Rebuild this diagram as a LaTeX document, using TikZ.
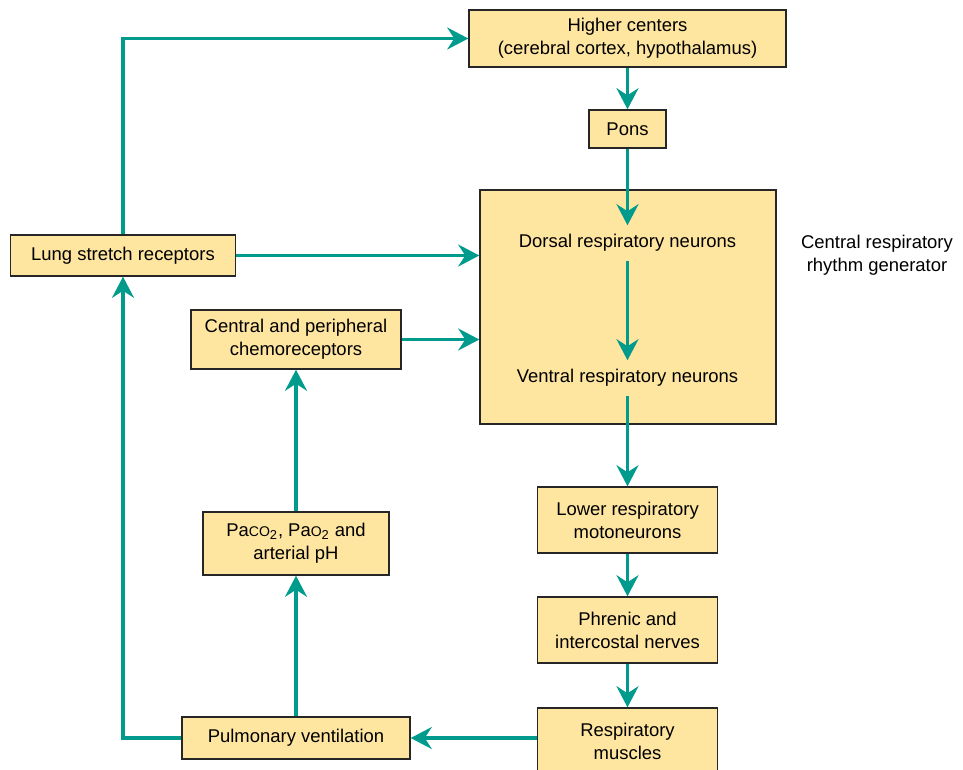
\documentclass[tikz,border=0pt]{standalone}
\usepackage{fontspec}
\setmainfont{Liberation Sans}
\usepackage{tikz}
\usepackage{xcolor}
\usetikzlibrary{arrows.meta}
\definecolor{flowteal}{RGB}{0,155,140}
\definecolor{boxyellow}{RGB}{254,229,160}
\tikzset{
    box/.style={
        rectangle, draw=black!85, line width=0.8pt,
        fill=boxyellow, align=center,
        inner sep=2pt, font=\fontsize{10.5}{13}\selectfont
    },
    label text/.style={
        align=center, inner sep=5pt,
        font=\fontsize{10.5}{13}\selectfont
    },
    flow/.style={
        draw=flowteal, line width=1.8pt,
        -{Stealth[length=12pt, width=12.5pt, inset=4pt]}
    }
}

\begin{document}
\begin{tikzpicture}[x=0.02cm, y=-0.02cm]

        \useasboundingbox (0,0) rectangle (963,769);

        % Brain stem column
        \node[box, minimum width=317*0.02cm, minimum height=57*0.02cm] (higher)
            at (627.5,38.5) {Higher centers\\(cerebral cortex, hypothalamus)};
        \node[box, minimum width=77*0.02cm, minimum height=38*0.02cm] (pons)
            at (627.5,129) {Pons};

        % Rhythm generator
        \node[box, minimum width=296*0.02cm, minimum height=234*0.02cm] (cprg)
            at (628,307) {};
        \node[label text] (dorsal) at (627.5,243) {Dorsal respiratory neurons};
        \node[label text] (ventral) at (627.5,378) {Ventral respiratory neurons};
        \node[label text] (cprglabel) at (877,255)
            {Central respiratory\\rhythm generator};

        % Motor pathway
        \node[box, minimum width=180*0.02cm, minimum height=66*0.02cm] (lowermn)
            at (627.5,520) {Lower respiratory\\motoneurons};
        \node[box, minimum width=180*0.02cm, minimum height=66*0.02cm] (nerves)
            at (627.5,630) {Phrenic and\\intercostal nerves};
        \node[box, minimum width=180*0.02cm, minimum height=66*0.02cm] (muscles)
            at (627.5,741) {Respiratory\\muscles};

        % Feedback side
        \node[box, minimum width=228*0.02cm, minimum height=42*0.02cm] (ventil)
            at (296,738) {Pulmonary ventilation};
        \node[box, minimum width=186*0.02cm, minimum height=63*0.02cm] (gases)
            at (296,543.5)
            {Pa{\footnotesize CO}\textsubscript{2}, Pa{\footnotesize O}\textsubscript{2} and\\arterial pH};
        \node[box, minimum width=210*0.02cm, minimum height=59*0.02cm] (chemo)
            at (296,339.5) {Central and peripheral\\chemoreceptors};
        \node[box, minimum width=225*0.02cm, minimum height=41*0.02cm] (lungsr)
            at (123,255.5) {Lung stretch receptors};

        % Arrows down the column
        \draw[flow] (higher) -- (pons);
        \draw[flow] (pons) -- (dorsal);
        \draw[flow] (dorsal) -- (ventral);
        \draw[flow] (ventral) -- (lowermn);
        \draw[flow] (lowermn) -- (nerves);
        \draw[flow] (nerves) -- (muscles);

        % Arrows back up the left side
        \draw[flow] (ventil.east -| muscles.west) -- (ventil.east);
        \draw[flow] (ventil) -- (gases);
        \draw[flow] (gases) -- (chemo);
        \draw[flow] (ventil.west) -| (lungsr.south);
        \draw[flow] (lungsr.north) |- (higher.west);

        % Arrows into the rhythm generator
        \draw[flow] (lungsr.east) -- (lungsr.east -| cprg.west);
        \draw[flow] (chemo.east) -- (chemo.east -| cprg.west);

    \end{tikzpicture}
\end{document}
